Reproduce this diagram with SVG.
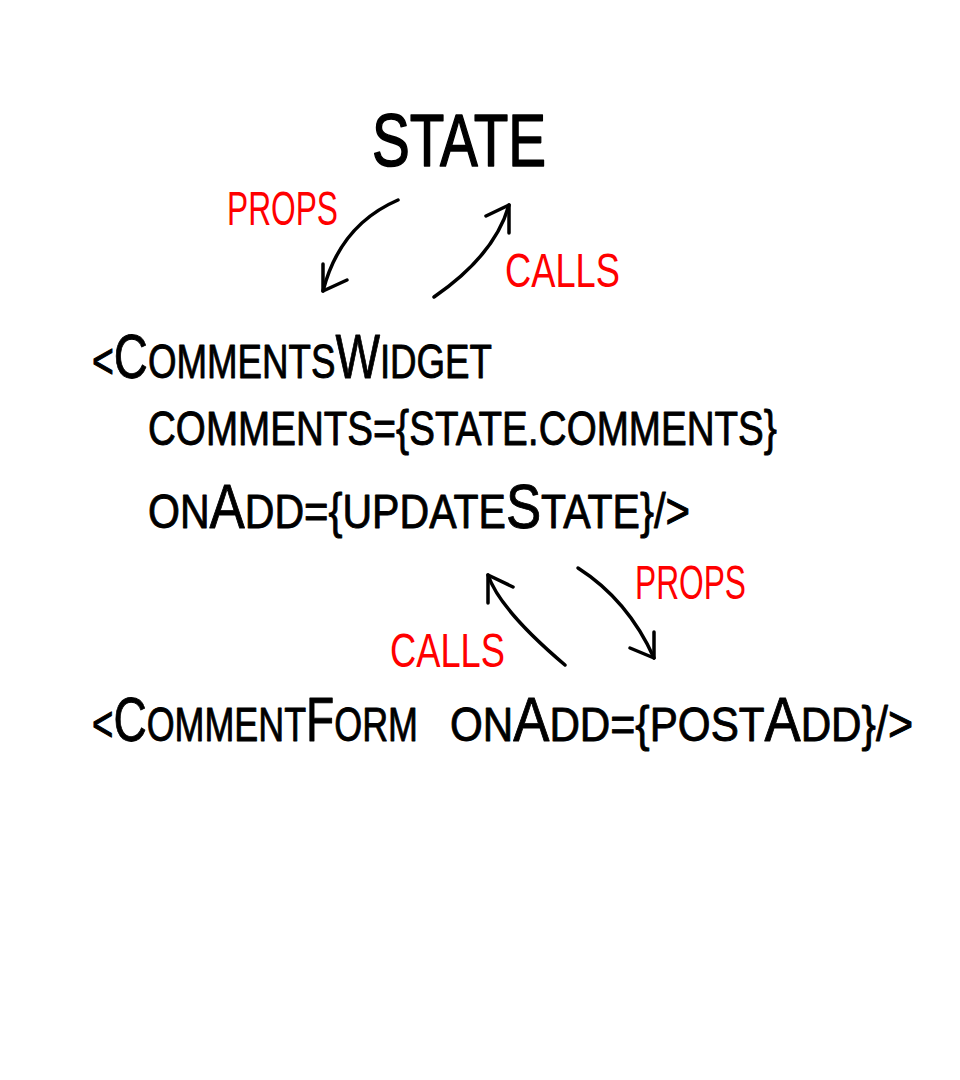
<svg xmlns="http://www.w3.org/2000/svg" width="960" height="1080" viewBox="0 0 960 1080">
<style>
.bg{fill:#ffffff}
.code{font-family:"Liberation Sans",Arial,sans-serif;font-variant:small-caps;font-size:70px;fill:#000;stroke:#000;stroke-width:0.9;stroke-linejoin:round}
.C{font-size:63px}
.p{font-size:50px}
.title{font-family:"Liberation Sans",Arial,sans-serif;font-size:75px;fill:#000;stroke:#000;stroke-width:1.6;stroke-linejoin:round}
.lbl{font-family:"Liberation Sans",Arial,sans-serif;font-size:49px;fill:#ff0000}
.edge{fill:none;stroke:#000;stroke-width:3.5;stroke-linecap:round;stroke-linejoin:round}
</style>
<rect class="bg" x="0" y="0" width="960" height="1080"/>
<g id="state">
<text class="title" x="372" y="166" textLength="174" lengthAdjust="spacingAndGlyphs">STATE</text>
</g>
<g id="comments-widget">
<text class="code" x="92" y="378" textLength="400" lengthAdjust="spacingAndGlyphs"><tspan class="p">&lt;</tspan><tspan class="C">C</tspan>omments<tspan class="C">W</tspan>idget</text>
<text class="code" x="148" y="445" textLength="629" lengthAdjust="spacingAndGlyphs">comments<tspan class="p">={</tspan>state<tspan class="p">.</tspan>comments<tspan class="p">}</tspan></text>
<text class="code" x="148" y="528" textLength="542" lengthAdjust="spacingAndGlyphs">on<tspan class="C">A</tspan>dd<tspan class="p">={</tspan>update<tspan class="C">S</tspan>tate<tspan class="p">}/&gt;</tspan></text>
</g>
<g id="comment-form">
<text class="code" x="92" y="741" textLength="326" lengthAdjust="spacingAndGlyphs"><tspan class="p">&lt;</tspan><tspan class="C">C</tspan>omment<tspan class="C">F</tspan>orm</text>
<text class="code" x="450" y="741" textLength="463" lengthAdjust="spacingAndGlyphs">on<tspan class="C">A</tspan>dd<tspan class="p">={</tspan>post<tspan class="C">A</tspan>dd<tspan class="p">}/&gt;</tspan></text>
</g>
<g id="connectors">
<g id="state-props">
<path class="edge" d="M398,200 Q340,225 323,291"/>
<path class="edge" d="M323,264 L323,291 L347,280"/>
<text class="lbl" x="227" y="225" textLength="111" lengthAdjust="spacingAndGlyphs">PROPS</text>
</g>
<g id="widget-calls">
<path class="edge" d="M434,297 Q495,255 509,205"/>
<path class="edge" d="M486,216 L509,205 L509,233"/>
<text class="lbl" x="505" y="287" textLength="115" lengthAdjust="spacingAndGlyphs">CALLS</text>
</g>
<g id="form-calls">
<path class="edge" d="M565,665 Q500,610 488,575"/>
<path class="edge" d="M488,603 L488,575 L513,587"/>
<text class="lbl" x="390" y="667" textLength="115" lengthAdjust="spacingAndGlyphs">CALLS</text>
</g>
<g id="widget-props">
<path class="edge" d="M578,568 Q628,600 654,658"/>
<path class="edge" d="M630,648 L654,658 L654,632"/>
<text class="lbl" x="635" y="599" textLength="111" lengthAdjust="spacingAndGlyphs">PROPS</text>
</g>
</g>
</svg>
